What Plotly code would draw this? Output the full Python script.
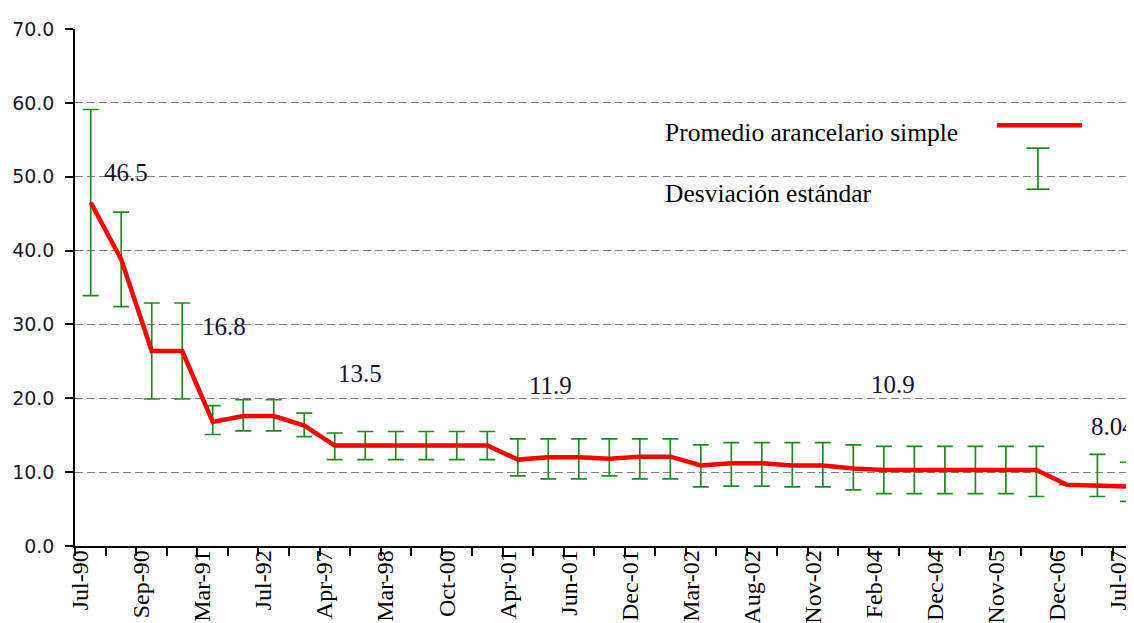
import plotly.graph_objects as go

# ---------------- data ----------------
# 35 observations (only every other one labelled on the axis)
tick_labels = ["Jul-90", "Sep-90", "Mar-91", "Jul-92", "Apr-97", "Mar-98",
               "Oct-00", "Apr-01", "Jun-01", "Dec-01", "Mar-02", "Aug-02",
               "Nov-02", "Feb-04", "Dec-04", "Nov-05", "Dec-06", "Jul-07"]

promedio = [46.5, 38.8, 26.4, 26.4, 16.8, 17.6, 17.6, 16.3, 13.6, 13.6,
            13.6, 13.6, 13.6, 13.6, 11.7, 12.0, 12.0, 11.8, 12.1, 12.1,
            10.9, 11.2, 11.2, 10.9, 10.9, 10.5, 10.3, 10.3, 10.3, 10.3,
            10.3, 10.3, 8.3, 8.1, 8.04]

desv_sup = [12.6, 6.4, 6.5, 6.5, 2.2, 2.2, 2.2, 1.7, 1.7, 1.9,
            1.9, 1.9, 1.9, 1.9, 2.8, 2.5, 2.5, 2.7, 2.4, 2.4,
            2.8, 2.8, 2.8, 3.1, 3.1, 3.2, 3.2, 3.2, 3.2, 3.2,
            3.2, 3.2, None, 4.3, 3.3]
desv_inf = [12.6, 6.4, 6.5, 6.5, 1.7, 2.0, 2.0, 1.5, 1.9, 1.9,
            1.9, 1.9, 1.9, 1.9, 2.2, 2.9, 2.9, 2.3, 3.0, 3.0,
            2.9, 3.1, 3.1, 2.9, 2.9, 2.9, 3.2, 3.2, 3.2, 3.2,
            3.2, 3.6, None, 1.4, 2.0]

value_labels = ["46.5", "16.8", "13.5", "11.9", "10.9", "8.04"]
value_label_x = [1.15, 4.37, 8.83, 15.06, 26.3, 33.5]
value_label_y = [50.6, 29.7, 23.4, 21.7, 21.9, 16.2]

legend_names = ["Promedio arancelario simple", "Desviación estándar"]

# ---------------- figure ----------------
x_idx = list(range(len(promedio)))
nan = float("nan")
sup = [nan if v is None else v for v in desv_sup]
inf = [nan if v is None else v for v in desv_inf]

GREEN = "#1e8c1e"
RED = "#ff0000"
SERIF = "Liberation Serif, Times New Roman, serif"

fig = go.Figure()

# error bars (invisible markers)
fig.add_trace(go.Scatter(
    x=x_idx, y=promedio, mode="markers", cliponaxis=False,
    marker=dict(size=1, color="rgba(0,0,0,0)"),
    error_y=dict(type="data", symmetric=False, array=sup, arrayminus=inf,
                 color=GREEN, thickness=1.7, width=8),
    showlegend=False, hoverinfo="skip"))

# mean line
fig.add_trace(go.Scatter(
    x=x_idx, y=promedio, mode="lines",
    line=dict(color=RED, width=4.5),
    showlegend=False))

# value labels
for t, xv, yv in zip(value_labels, value_label_x, value_label_y):
    fig.add_annotation(x=xv, y=yv, text=t, showarrow=False,
                       xref="x", yref="y",
                       font=dict(family=SERIF, size=25, color="#1a1030"))

# legend (custom: text left, symbol right)
fig.add_annotation(xref="paper", yref="paper", x=0.555, y=0.799,
                   xanchor="left", yanchor="middle", showarrow=False,
                   text=legend_names[0],
                   font=dict(family=SERIF, size=25.5, color="black"))
fig.add_annotation(xref="paper", yref="paper", x=0.555, y=0.6825,
                   xanchor="left", yanchor="middle", showarrow=False,
                   text=legend_names[1],
                   font=dict(family=SERIF, size=25.5, color="black"))
fig.add_shape(type="line", xref="paper", yref="paper",
              x0=0.8706, x1=0.9509, y0=0.814, y1=0.814,
              line=dict(color=RED, width=4.5))
gx, gy0, gy1, cw = 0.9093, 0.6902, 0.7696, 0.0109
fig.add_shape(type="line", xref="paper", yref="paper",
              x0=gx, x1=gx, y0=gy0, y1=gy1, line=dict(color=GREEN, width=1.7))
for yy in (gy0, gy1):
    fig.add_shape(type="line", xref="paper", yref="paper",
                  x0=gx - cw, x1=gx + cw, y0=yy, y1=yy,
                  line=dict(color=GREEN, width=1.7))

label_pos = [i * 2 - 0.33 for i in range(len(tick_labels))]

fig.update_xaxes(
    range=[-0.515, 34.2], automargin=False,
    tickmode="array", tickvals=label_pos, ticktext=tick_labels,
    tickangle=-90, ticks="", ticklabelstandoff=-7,
    tickfont=dict(family=SERIF, size=24, color="black"),
    showline=True, linecolor="black", linewidth=1.5,
    showgrid=False, zeroline=False,
    minor=dict(tickmode="linear", tick0=-0.5, dtick=1, ticks="outside",
               ticklen=8, tickwidth=1.5, tickcolor="black", showgrid=False),
)
fig.update_yaxes(
    range=[0, 70], automargin=False,
    tickmode="linear", tick0=0, dtick=10, tickformat=".1f",
    ticks="outside", ticklen=8, tickwidth=1.5, tickcolor="black",
    ticklabelstandoff=7,
    tickfont=dict(family="DejaVu Sans, sans-serif", size=19, color="#1a1a2a"),
    showline=True, linecolor="black", linewidth=1.5,
    showgrid=True, gridcolor="#808080", gridwidth=1, griddash="8px,4px",
    zeroline=False,
)
# the page body adds an 8px offset; size the figure so the plot lands where
# the reference has it
fig.update_layout(
    width=1126, height=615,
    margin=dict(l=67, r=0, t=21, b=77),
    plot_bgcolor="white", paper_bgcolor="white",
    showlegend=False,
)

fig.write_html("out.html")
